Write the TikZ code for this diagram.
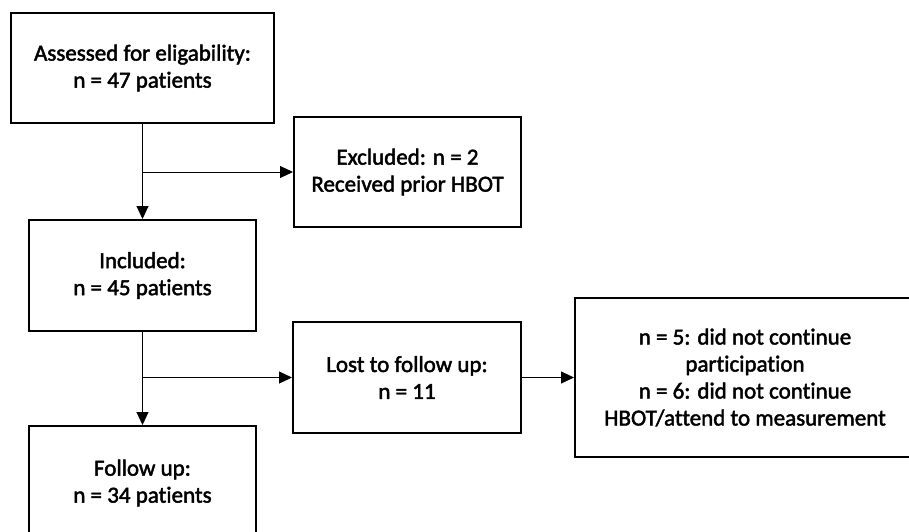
\documentclass[tikz,border=0pt]{standalone}
\usepackage{fontspec}
\setmainfont{Carlito}[Ligatures=NoCommon]
\newfontfamily\boxfont{Carlito}[Ligatures=NoCommon,FakeBold=2]
\usetikzlibrary{arrows.meta}
\begin{document}
\begin{tikzpicture}[x=1pt,y=-1pt,
  box/.style={draw=black, line width=2pt, fill=white, rectangle, align=center,
    inner sep=0pt, font=\boxfont\fontsize{23}{27}\selectfont},
  conn/.style={draw=black, line width=1pt, -{Triangle[length=13pt,width=12pt]}}]
\clip (0,0) rectangle (909,532);
\fill[white] (0,0) rectangle (909,532);
\node[box, minimum width=263pt, minimum height=110pt] (assess) at (142.5,68) {Assessed for eligability:\\n = 47 patients};
\node[box, minimum width=227pt, minimum height=110pt] (excl) at (407.5,172) {Excluded: n = 2\\Received prior HBOT};
\node[box, minimum width=227pt, minimum height=111pt] (incl) at (142.5,275.5) {Included:\\n = 45 patients};
\node[box, minimum width=228pt, minimum height=111pt] (lost) at (407,377.5) {Lost to follow up:\\n = 11};
\node[box, minimum width=227pt, minimum height=114pt] (follow) at (142.5,483) {Follow up:\\n = 34 patients};
\node[box, minimum width=340pt, minimum height=159pt] (reasons) at (745,377.5) {n = 5: did not continue\\participation\\n = 6: did not continue\\HBOT/attend to measurement};
\coordinate (b1) at (assess.south |- excl.west);
\coordinate (b2) at (incl.south |- lost.west);
\draw[conn] (assess.south) -- (incl.north);
\draw[conn] (b1) -- (excl.west);
\draw[conn] (incl.south) -- (follow.north);
\draw[conn] (b2) -- (lost.west);
\draw[conn] (lost.east) -- (lost.east -| reasons.west);
\end{tikzpicture}
\end{document}
